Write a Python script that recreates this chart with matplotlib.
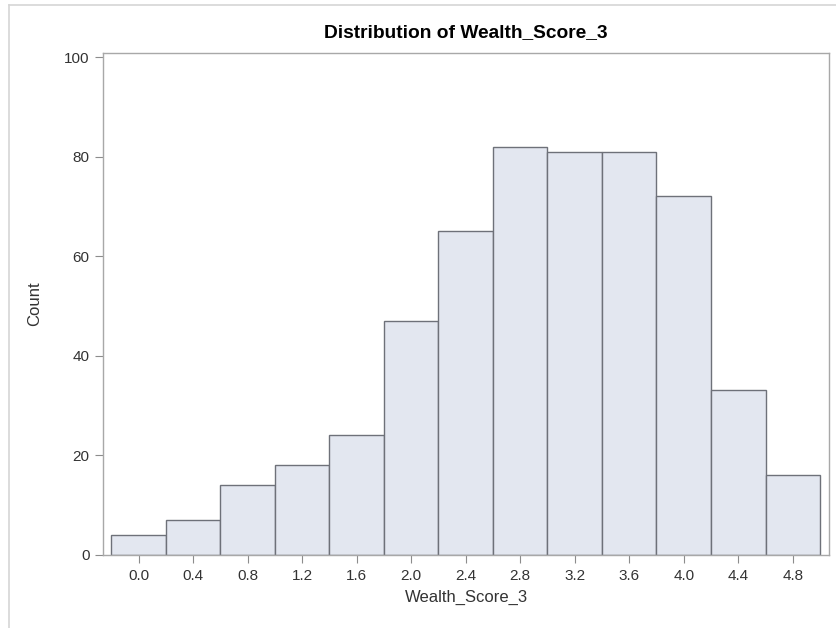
import matplotlib
matplotlib.use("Agg")
import matplotlib.pyplot as plt
from matplotlib.lines import Line2D

# bin midpoints and counts
bin_mids = [0.0, 0.4, 0.8, 1.2, 1.6, 2.0, 2.4, 2.8, 3.2, 3.6, 4.0, 4.4, 4.8]
counts = [4, 7, 14, 18, 24, 47, 65, 82, 81, 81, 72, 33, 16]
bin_width = 0.4

x_ticks = [0.0, 0.4, 0.8, 1.2, 1.6, 2.0, 2.4, 2.8, 3.2, 3.6, 4.0, 4.4, 4.8]
y_ticks = [0, 20, 40, 60, 80, 100]

plt.rcParams["font.family"] = ["Liberation Sans", "DejaVu Sans"]

fig = plt.figure(figsize=(8.36, 6.28), dpi=100)
ax = fig.add_axes([103.3 / 836, 73.5 / 628, 725.7 / 836, 501.8 / 628])

ax.bar(bin_mids, counts, width=bin_width, align="center",
       color="#E3E7F0", edgecolor="#6E7179", linewidth=1.0, zorder=2)

ax.set_xlim(-0.26, 5.066)
ax.set_ylim(0, 100.9)
ax.set_xticks(x_ticks)
ax.set_xticklabels([f"{v:.1f}" for v in x_ticks])
ax.set_yticks(y_ticks)

for side in ax.spines.values():
    side.set_color("#A8A8A8")
    side.set_linewidth(1.0)

ax.tick_params(axis="both", length=5.5, width=0.8, color="#8C8C8C",
               labelsize=11, labelcolor="#333333")
ax.tick_params(axis="x", pad=5)
ax.tick_params(axis="y", pad=4.5)

ax.set_xlabel("Wealth_Score_3", fontsize=12, color="#333333", labelpad=5)
ax.set_ylabel("Count", fontsize=12, color="#333333", labelpad=16)
ax.set_title("Distribution of Wealth_Score_3", fontsize=13.8, fontweight="bold",
             color="#000000", pad=11)

# light border of the output panel
fig.add_artist(Line2D([9 / 836, 1.0], [1 - 5 / 628, 1 - 5 / 628],
                      transform=fig.transFigure, color="#D6D6D6", linewidth=1.2))
fig.add_artist(Line2D([9 / 836, 9 / 836], [0, 1 - 5 / 628],
                      transform=fig.transFigure, color="#D6D6D6", linewidth=1.2))

fig.savefig("out.png", dpi=100)
